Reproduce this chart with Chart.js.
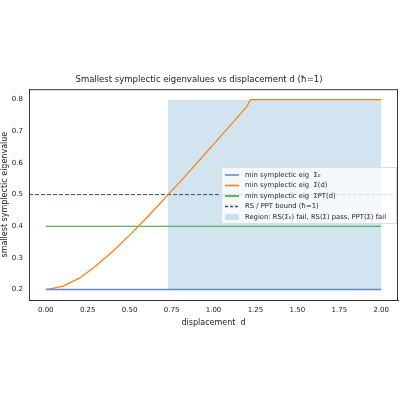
<!DOCTYPE html>
<html><head><meta charset="utf-8">
<script src="https://cdn.jsdelivr.net/npm/chart.js@4"></script>
<style>html,body{margin:0;background:#fff}#c{width:400px;height:400px}</style>
</head><body>
<div id="c"><canvas id="plot" width="400" height="400"></canvas></div>
<script>
'use strict';

const dValues = [0, 0.1, 0.2, 0.3, 0.4, 0.5, 0.6, 0.7, 0.8, 0.9, 1.0, 1.1, 1.2, 1.22, 1.5, 1.75, 2.0];
const eigSigma0 = [0.2, 0.2, 0.2, 0.2, 0.2, 0.2, 0.2, 0.2, 0.2, 0.2, 0.2, 0.2, 0.2, 0.2, 0.2, 0.2, 0.2];
const eigSigmaD = [0.2, 0.21, 0.236, 0.275, 0.321, 0.372, 0.426, 0.483, 0.54, 0.599, 0.659, 0.719, 0.779, 0.8, 0.8, 0.8, 0.8];
const eigSigmaPT = [0.4, 0.4, 0.4, 0.4, 0.4, 0.4, 0.4, 0.4, 0.4, 0.4, 0.4, 0.4, 0.4, 0.4, 0.4, 0.4, 0.4];
const boundValue = 0.5;
const regionX = [0.727, 2.0];
const regionLow = 0.2;
const regionHigh = 0.8;
const xTicks = [0, 0.25, 0.5, 0.75, 1.0, 1.25, 1.5, 1.75, 2.0];
const yTicks = [0.2, 0.3, 0.4, 0.5, 0.6, 0.7, 0.8];

const pts = (ys) => dValues.map((d, i) => ({x: d, y: ys[i]}));

const legendItems = [
    {label: "min symplectic eig  Σ₀", color: "#5b8bc9", type: "line"},
    {label: "min symplectic eig  Σ(d)", color: "#ff7f0e", type: "line"},
    {label: "min symplectic eig  ΣPT(d)", color: "#2ca02c", type: "line"},
    {label: "RS / PPT bound (ħ=1)", color: "#3b4a6b", type: "dash"},
    {label: "Region: RS(Σ₀) fail, RS(Σ) pass, PPT(Σ) fail", color: "rgba(31,119,180,0.2)", type: "box"},
];

const frameAndLegend = {
    id: "frameAndLegend",
    afterDraw(chart) {
        const c = chart.ctx;
        const a = chart.chartArea;
        c.save();
        c.strokeStyle = "#333";
        c.lineWidth = 1;
        c.strokeRect(a.left + 0.5, a.top + 0.5, a.right - a.left - 1, a.bottom - a.top);
        const x0 = 221, y0 = 167, w = 176, h = 57;
        c.fillStyle = "rgba(255,255,255,0.8)";
        c.strokeStyle = "#ddd";
        c.fillRect(x0, y0, w, h);
        c.strokeRect(x0 + 0.5, y0 + 0.5, w - 1, h - 1);
        c.font = "6.8px 'DejaVu Sans'";
        c.textBaseline = "middle";
        legendItems.forEach((it, i) => {
            const y = y0 + 8 + i * 10.5;
            if (it.type === "box") {
                c.fillStyle = it.color;
                c.fillRect(x0 + 4, y - 3, 14, 6);
            } else {
                c.strokeStyle = it.color;
                c.lineWidth = 1.5;
                c.setLineDash(it.type === "dash" ? [3, 2] : []);
                c.beginPath(); c.moveTo(x0 + 4, y); c.lineTo(x0 + 18, y); c.stroke();
                c.setLineDash([]);
            }
            c.fillStyle = "#222";
            c.fillText(it.label, x0 + 24, y);
        });
        c.restore();
    }
};

new Chart(document.getElementById("plot").getContext("2d"), {
    type: "scatter",
    data: {
        datasets: [
            {
                label: "region",
                data: [{x: regionX[0], y: regionHigh}, {x: regionX[1], y: regionHigh}],
                showLine: true, borderWidth: 0, pointRadius: 0,
                backgroundColor: "rgba(31,119,180,0.2)",
                fill: {value: regionLow}, order: 5,
            },
            {label: "Σ0", data: pts(eigSigma0), showLine: true, borderColor: "#5b8bc9", borderWidth: 1.5, pointRadius: 0, order: 1},
            {label: "Σd", data: pts(eigSigmaD), showLine: true, borderColor: "#ff7f0e", borderWidth: 1.2, pointRadius: 0, order: 1},
            {label: "ΣPT", data: pts(eigSigmaPT), showLine: true, borderColor: "#2ca02c", borderWidth: 1.2, pointRadius: 0, order: 1},
            {label: "bound", data: [{x: -0.1, y: boundValue}, {x: 2.1, y: boundValue}], showLine: true, borderColor: "#3b4a6b", borderWidth: 1, borderDash: [4, 2], pointRadius: 0, order: 1},
        ],
    },
    options: {
        responsive: false,
        animation: false,
        layout: {padding: {left: 0, right: 2, top: 0, bottom: 71}},
        scales: {
            x: {
                min: -0.1, max: 2.1,
                grid: {display: false, drawTicks: true, tickLength: 3, tickColor: "#333"},
                border: {color: "#333"},
                afterBuildTicks: (s) => { s.ticks = xTicks.map(v => ({value: v})); },
                ticks: {color: "#222", font: {size: 7, family: "DejaVu Sans"}, maxRotation: 0, callback: v => v.toFixed(2)},
                title: {display: true, text: "displacement  d", color: "#222", font: {size: 8, family: "DejaVu Sans"}, padding: 1},
            },
            y: {
                min: 0.167, max: 0.833,
                grid: {display: false, drawTicks: true, tickLength: 3, tickColor: "#333"},
                border: {color: "#333"},
                afterBuildTicks: (s) => { s.ticks = yTicks.map(v => ({value: v})); },
                afterFit: (s) => { s.width = 29; },
                ticks: {color: "#222", font: {size: 7, family: "DejaVu Sans"}, callback: v => v.toFixed(1)},
                title: {display: true, text: "smallest symplectic eigenvalue", color: "#222", font: {size: 8, family: "DejaVu Sans"}, padding: 0},
            },
        },
        plugins: {
            legend: {display: false},
            tooltip: {enabled: false},
            title: {display: true, text: "Smallest symplectic eigenvalues vs displacement d (ħ=1)", color: "#222", font: {size: 8.5, family: "DejaVu Sans", weight: "normal"}, padding: {top: 75, bottom: 4}},
        },
    },
    plugins: [frameAndLegend],
});
</script>
</body></html>
